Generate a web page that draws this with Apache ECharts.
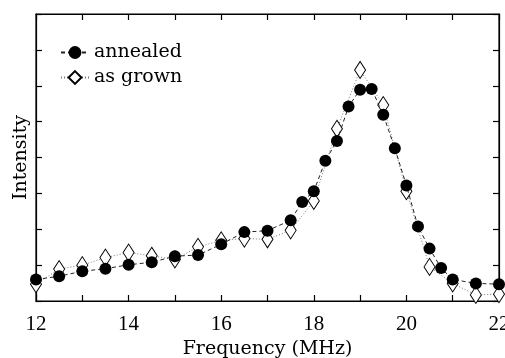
<!DOCTYPE html>
<html><head><meta charset="utf-8">
<script src="https://cdn.jsdelivr.net/npm/echarts@6/dist/echarts.min.js"></script>
<style>html,body{margin:0;padding:0;background:#fff}#c{width:505px;height:358px}</style>
</head><body><div id="c"></div>
<script>
const annealedX = [12,12.5,13,13.5,14,14.5,15,15.5,16,16.5,17,17.5,17.75,18,18.25,18.5,18.75,19,19.25,19.5,19.75,20,20.25,20.5,20.75,21,21.5,22];
const annealedY = [0.60,0.69,0.83,0.90,1.01,1.08,1.25,1.28,1.58,1.92,1.96,2.25,2.76,3.06,3.91,4.46,5.42,5.89,5.91,5.19,4.26,3.22,2.08,1.46,0.92,0.60,0.49,0.47];
const grownX = [12,12.5,13,13.5,14,14.5,15,15.5,16,16.5,17,17.5,18,18.5,19,19.5,20,20.5,21,21.5,22];
const grownY = [0.47,0.89,1.00,1.21,1.35,1.26,1.16,1.51,1.69,1.74,1.72,1.97,2.79,4.80,6.44,5.46,3.06,0.95,0.49,0.17,0.19];
const xTickLabels = [12,14,16,18,20,22];

const font = 'DejaVu Serif';
const tickFont = 'Liberation Serif';
const chart = echarts.init(document.getElementById('c'), null, {renderer:'canvas'});
const tick = () => ({show:true, inside:true, length:6, lineStyle:{color:'#000', width:1.2}});
const axLine = () => ({show:true, onZero:false, lineStyle:{color:'#000', width:1.2}});
chart.setOption({
  animation:false,
  grid:{left:36, top:14, right:6, bottom:57, show:true, borderColor:'#000', borderWidth:1.2,
        backgroundColor:'transparent', containLabel:false, outerBoundsMode:'none'},
  legend:{
    left:55, top:38, orient:'vertical', itemGap:6, itemWidth:28, itemHeight:16,
    textStyle:{fontFamily:font, fontSize:19, color:'#000'},
    data:['annealed','as grown']
  },
  xAxis:[{
    type:'value', position:'bottom', min:12, max:22, interval:1,
    axisLine:axLine(), axisTick:tick(), splitLine:{show:false},
    axisLabel:{fontFamily:tickFont, fontSize:21, color:'#000', margin:13, hideOverlap:false,
      formatter:v => xTickLabels.includes(v) ? String(v) : ''},
    name:'Frequency (MHz)', nameLocation:'middle', nameGap:34,
    nameTextStyle:{fontFamily:font, fontSize:19, color:'#000'}
  },{
    type:'value', position:'top', min:12, max:22, interval:1,
    axisLine:axLine(), axisTick:tick(), axisLabel:{show:false}, splitLine:{show:false}
  }],
  yAxis:[{
    type:'value', position:'left', min:0, max:8, interval:1,
    axisLine:axLine(), axisTick:tick(), axisLabel:{show:false}, splitLine:{show:false},
    name:'Intensity', nameLocation:'middle', nameGap:5,
    nameTextStyle:{fontFamily:font, fontSize:19, color:'#000'}
  },{
    type:'value', position:'right', min:0, max:8, interval:1,
    axisLine:axLine(), axisTick:tick(), axisLabel:{show:false}, splitLine:{show:false}
  }],
  series:[{
    name:'as grown', type:'line',
    data: grownX.map((x,i)=>[x, grownY[i]]),
    symbol:'diamond', symbolSize:[11,17],
    itemStyle:{color:'#fff', borderColor:'#000', borderWidth:1},
    lineStyle:{color:'#777', width:1, type:[1,2]},
    z:2
  },{
    name:'annealed', type:'line',
    data: annealedX.map((x,i)=>[x, annealedY[i]]),
    symbol:'circle', symbolSize:12,
    itemStyle:{color:'#000', borderColor:'#000', borderWidth:0},
    lineStyle:{color:'#222', width:1, type:[4,3]},
    z:3
  }]
});
</script></body></html>
